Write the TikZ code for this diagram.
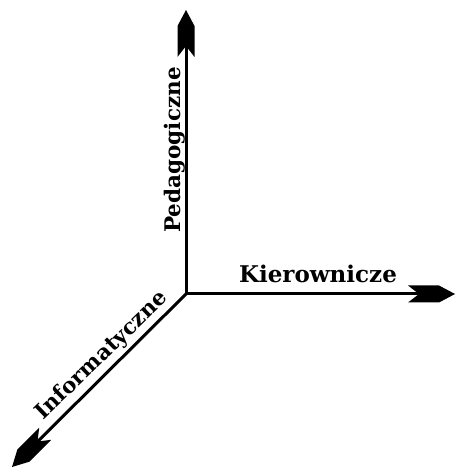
\documentclass[tikz,border=0pt]{standalone}
\usepackage{fontspec}
\setmainfont{DejaVu Serif}
\begin{document}
\begin{tikzpicture}[x=1pt,y=1pt,
  axis/.style={line width=3pt, line join=miter},
  lbl/.style={font=\fontsize{21.5}{24}\selectfont\bfseries, inner sep=0pt, anchor=base},
  ahead/.pic={\fill (0,0) -- (-16,8.5) -- (-47,8.5) -- (-36,0) -- (-47,-8.5) -- (-16,-8.5) -- cycle;}]
\useasboundingbox (0,0) rectangle (455,468);
\coordinate (O) at (186,174);
\coordinate (U) at (186,458);
\coordinate (R) at (455,174);
\coordinate (D) at (12,1);
\draw[axis, shorten <=25pt] (U) -- (O);
\draw[axis, shorten >=25pt] (O) -- (R);
\draw[axis] ([shift={(0,1.5)}]O) -- (O);
\draw[axis, shorten >=25pt] (O) -- (D);
\pic[rotate=90] at (U) {ahead};
\pic at (R) {ahead};
\pic[rotate=225] at (D) {ahead};
\node[lbl, font=\fontsize{23}{26}\selectfont\bfseries] (K) at (318,185) {Kierownicze};
\node[lbl, rotate=90] (P) at (180,318) {Pedagogiczne};
\node[lbl, rotate=44] (I) at (106,108) {Informatyczne};
\end{tikzpicture}
\end{document}
